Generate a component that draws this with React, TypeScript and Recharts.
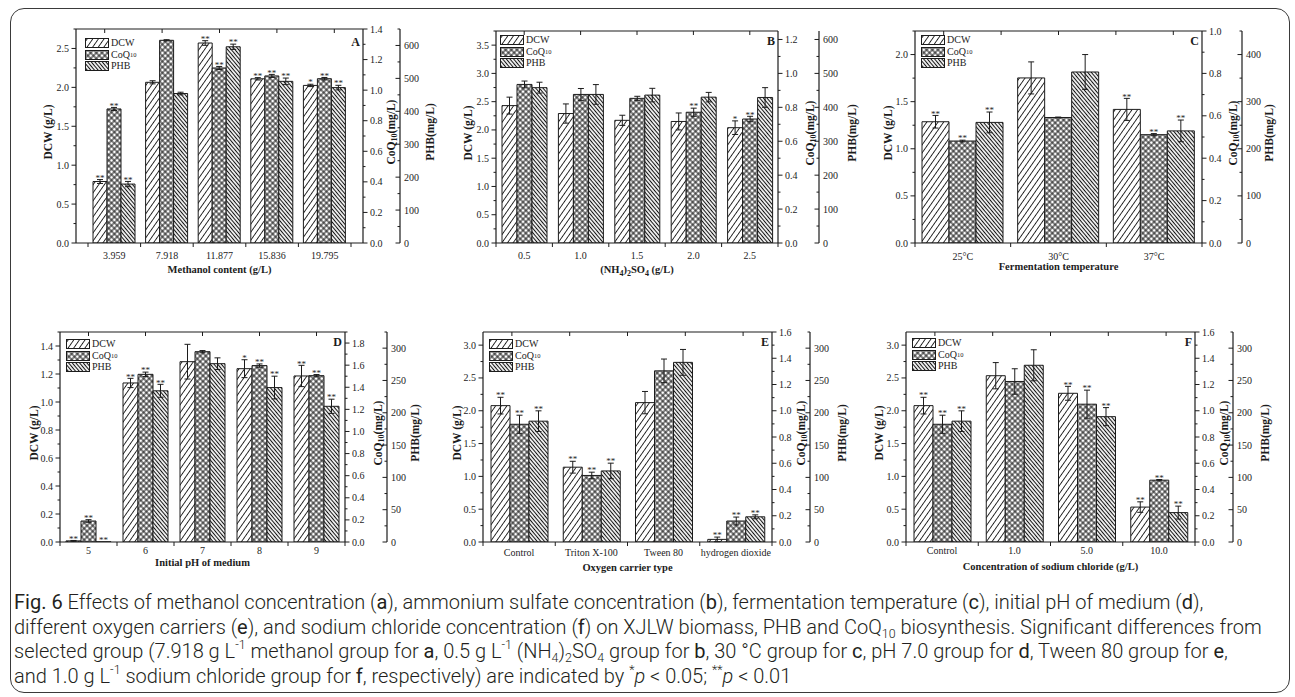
import React from "react";
import { BarChart, Bar, XAxis, YAxis, ErrorBar, LabelList } from "recharts";

const SERIF = "'Liberation Serif', 'Times New Roman', serif";
const INK = "#1c1c1c";

// A – methanol content (g/L)
const methanolLevels = ["3.959", "7.918", "11.877", "15.836", "19.795"];
const methanolDcw = [0.79, 2.065, 2.57, 2.11, 2.025];
const methanolDcwSd = [0.025, 0.02, 0.03, 0.015, 0.015];
const methanolDcwSig = ["**", "", "**", "**", "*"];
const methanolCoq = [0.877, 1.326, 1.145, 1.093, 1.075];
const methanolCoqSd = [0.01, 0.004, 0.01, 0.01, 0.008];
const methanolCoqSig = ["**", "", "**", "**", "**"];
const methanolPhb = [179, 454, 596, 491, 472];
const methanolPhbSd = [8, 4, 8, 10, 7];
const methanolPhbSig = ["**", "", "**", "**", "**"];

// B – (NH4)2SO4 (g/L)
const sulfateLevels = ["0.5", "1.0", "1.5", "2.0", "2.5"];
const sulfateDcw = [2.43, 2.29, 2.17, 2.15, 2.04];
const sulfateDcwSd = [0.15, 0.17, 0.09, 0.15, 0.12];
const sulfateDcwSig = ["", "", "", "", "*"];
const sulfateCoq = [0.935, 0.876, 0.853, 0.771, 0.731];
const sulfateCoqSd = [0.02, 0.035, 0.012, 0.024, 0.016];
const sulfateCoqSig = ["", "", "", "**", "**"];
const sulfatePhb = [458, 438, 436, 430, 429];
const sulfatePhbSd = [16, 29, 20, 14, 29];
const sulfatePhbSig = ["", "", "", "", ""];

// C – fermentation temperature
const tempLevels = ["25°C", "30°C", "37°C"];
const tempDcw = [1.287, 1.752, 1.418];
const tempDcwSd = [0.067, 0.17, 0.117];
const tempDcwSig = ["**", "", "**"];
const tempCoq = [0.481, 0.592, 0.511];
const tempCoqSd = [0.004, 0.002, 0.005];
const tempCoqSig = ["**", "", "**"];
const tempPhb = [256, 363, 238];
const tempPhbSd = [22, 37, 23];
const tempPhbSig = ["**", "", "**"];

// D – initial pH of medium
const phLevels = ["5", "6", "7", "8", "9"];
const phDcw = [0.008, 1.136, 1.288, 1.238, 1.186];
const phDcwSd = [0.003, 0.033, 0.124, 0.064, 0.076];
const phDcwSig = ["**", "**", "", "*", "**"];
const phCoq = [0.19, 1.517, 1.722, 1.596, 1.505];
const phCoqSd = [0.012, 0.02, 0.01, 0.015, 0.01];
const phCoqSig = ["**", "**", "", "**", "**"];
const phPhb = [0.3, 234, 276, 239, 210];
const phPhbSd = [0, 10, 9, 17.6, 11];
const phPhbSig = ["**", "**", "", "**", "**"];

// E – oxygen carrier type
const carrierLevels = ["Control", "Triton X-100", "Tween 80", "hydrogen dioxide"];
const carrierDcw = [2.078, 1.14, 2.124, 0.04];
const carrierDcwSd = [0.127, 0.09, 0.17, 0.035];
const carrierDcwSig = ["**", "**", "", "**"];
const carrierCoq = [0.897, 0.507, 1.304, 0.16];
const carrierCoqSd = [0.069, 0.025, 0.09, 0.03];
const carrierCoqSig = ["**", "**", "", "**"];
const carrierPhb = [187, 110, 278, 39];
const carrierPhbSd = [16, 12, 20, 3];
const carrierPhbSig = ["**", "**", "", "**"];

// F – sodium chloride (g/L)
const saltLevels = ["Control", "1.0", "5.0", "10.0"];
const saltDcw = [2.078, 2.534, 2.266, 0.532];
const saltDcwSd = [0.127, 0.2, 0.106, 0.08];
const saltDcwSig = ["**", "", "**", "**"];
const saltCoq = [0.897, 1.223, 1.05, 0.471];
const saltCoqSd = [0.069, 0.097, 0.107, 0.005];
const saltCoqSig = ["**", "", "**", "**"];
const saltPhb = [187, 273.5, 194, 45.5];
const saltPhbSd = [16, 24, 14, 10];
const saltPhbSig = ["**", "", "**", "**"];

// axis ticks (major; minors are drawn half way)
const dcwTicksA = [0, 0.5, 1, 1.5, 2, 2.5];
const coqTicksA = [0, 0.2, 0.4, 0.6, 0.8, 1.0, 1.2, 1.4];
const phbTicksA = [0, 100, 200, 300, 400, 500, 600];
const dcwTicksB = [0, 0.5, 1, 1.5, 2, 2.5, 3, 3.5];
const coqTicksB = [0, 0.2, 0.4, 0.6, 0.8, 1.0, 1.2];
const phbTicksB = [0, 100, 200, 300, 400, 500, 600];
const dcwTicksC = [0, 0.5, 1, 1.5, 2];
const coqTicksC = [0, 0.2, 0.4, 0.6, 0.8, 1.0];
const phbTicksC = [0, 100, 200, 300, 400];
const dcwTicksD = [0, 0.2, 0.4, 0.6, 0.8, 1.0, 1.2, 1.4];
const coqTicksD = [0, 0.2, 0.4, 0.6, 0.8, 1.0, 1.2, 1.4, 1.6, 1.8];
const phbTicksD = [0, 50, 100, 150, 200, 250, 300];
const dcwTicksEF = [0, 0.5, 1, 1.5, 2, 2.5, 3];
const coqTicksEF = [0, 0.2, 0.4, 0.6, 0.8, 1.0, 1.2, 1.4, 1.6];
const phbTicksEF = [0, 50, 100, 150, 200, 250, 300];

const LEFT_W = 55;
const PHB_W = 48;
const TOP_M = 10;
const X_H = 40;

const withMinors = (majors: number[], max: number) => {
  const step = majors[1] - majors[0];
  const out: number[] = [];
  majors.forEach((m) => {
    out.push(m);
    if (m + step / 2 <= max + 1e-9) out.push(+(m + step / 2).toFixed(4));
  });
  return out;
};

function ValueTick(props: any) {
  const { x, y, payload, kind, majors, digits } = props;
  const v = Number(payload.value);
  const major = majors.some((m: number) => Math.abs(m - v) < 1e-6);
  const len = major ? 4.5 : 2.5;
  let x2 = x - len;
  let tx = x - 7;
  let anchor = "end";
  if (kind === "coq") {
    x2 = x + len;
    tx = x + 7;
    anchor = "start";
  }
  if (kind === "phb") {
    tx = x + 4;
    anchor = "start";
  }
  return (
    <g>
      <line x1={x} y1={y} x2={x2} y2={y} stroke={INK} strokeWidth={1} />
      {major && (
        <text x={tx} y={y} dy="0.35em" textAnchor={anchor} fontSize={10} fontFamily={SERIF} fill={INK}>
          {v.toFixed(digits)}
        </text>
      )}
    </g>
  );
}

function CatTick(props: any) {
  const { x, y, payload, index, half, count, dy } = props;
  return (
    <g>
      <line x1={x - half} y1={y} x2={x - half} y2={y + 4} stroke={INK} strokeWidth={1} />
      {index === count - 1 && <line x1={x + half} y1={y} x2={x + half} y2={y + 4} stroke={INK} strokeWidth={1} />}
      <text x={x} y={y + dy} textAnchor="middle" fontSize={10} fontFamily={SERIF} fill={INK}>
        {payload.value}
      </text>
    </g>
  );
}

const starLabel = (vals: number[], sds: number[], sigs: string[]) => (p: any) => {
  const i = p.index;
  const vb = p.viewBox && typeof p.viewBox.width === "number" ? p.viewBox : p;
  const s = i !== undefined ? sigs[i] : p.value;
  if (!s) return null;
  const h = vb.height ?? 0;
  const top = Math.min(vb.y, vb.y + h);
  const per = i !== undefined && vals[i] > 0 && Math.abs(h) > 0 ? Math.abs(h) / vals[i] : 0;
  const err = i !== undefined ? sds[i] * per : 0;
  return (
    <text x={vb.x + vb.width / 2} y={top - err + 1.2} textAnchor="middle" fontSize={9} fontFamily={SERIF} fill={INK}>
      {s}
    </text>
  );
};

type Frame = { letter: string; letterDy: number; plotW: number };

// axis title; the inner right axis also closes the frame along the top (Origin style) and carries the panel letter
const yTitle = (kind: string, dx: number, frame?: Frame) => (p: any) => {
  const vb = p.viewBox;
  const base = kind === "dcw" ? vb.x + vb.width : vb.x;
  const cx = base + dx;
  const cy = vb.y + vb.height / 2 - 4;
  return (
    <g>
      <text
        x={cx}
        y={cy}
        transform={`rotate(-90 ${cx} ${cy})`}
        textAnchor="middle"
        dominantBaseline="central"
        fontSize={11.5}
        fontWeight="bold"
        fontFamily={SERIF}
        fill={INK}
      >
        {kind === "dcw" && "DCW (g/L)"}
        {kind === "coq" && (
          <>
            CoQ<tspan fontSize={8} dy={3}>10</tspan>
            <tspan dy={-3}>(mg/L)</tspan>
          </>
        )}
        {kind === "phb" && "PHB(mg/L)"}
      </text>
      {frame && (
        <g>
          <line x1={vb.x - frame.plotW} y1={vb.y} x2={vb.x} y2={vb.y} stroke={INK} strokeWidth={1.2} />
          {[0, 1, 2, 3, 4].map((k) => {
            const xx = vb.x - frame.plotW + ((k + 0.5) * frame.plotW) / 5;
            return <line key={k} x1={xx} y1={vb.y} x2={xx} y2={vb.y + 4} stroke={INK} strokeWidth={1} />;
          })}
          <text x={vb.x - 3} y={vb.y + frame.letterDy} textAnchor="end" fontSize={12} fontWeight="bold" fontFamily={SERIF} fill={INK}>
            {frame.letter}
          </text>
        </g>
      )}
    </g>
  );
};

const xTitle = (content: React.ReactNode, dy: number) => (p: any) => {
  const vb = p.viewBox;
  return (
    <text x={vb.x + vb.width / 2} y={vb.y + dy} textAnchor="middle" fontSize={10.5} fontWeight="bold" fontFamily={SERIF} fill={INK}>
      {content}
    </text>
  );
};

type Spec = {
  letter: string;
  letterDy: number;
  left: number;
  top: number;
  plotW: number;
  plotH: number;
  coqW: number;
  pad: number;
  barSize: number;
  cats: string[];
  dcw: number[];
  dcwSd: number[];
  dcwSig: string[];
  coq: number[];
  coqSd: number[];
  coqSig: string[];
  phb: number[];
  phbSd: number[];
  phbSig: string[];
  dcwTicks: number[];
  dcwMax: number;
  coqTicks: number[];
  coqMax: number;
  phbTicks: number[];
  phbMax: number;
  title: React.ReactNode;
  tickDy: number;
  titleDy: number;
  dcwDx: number;
  phbDx: number;
  legend: [number, number];
};

const panels: Spec[] = [
  {
    letter: "A", letterDy: 17, left: 76, top: 29, plotW: 287, plotH: 214, coqW: 37, pad: 12, barSize: 14,
    cats: methanolLevels,
    dcw: methanolDcw, dcwSd: methanolDcwSd, dcwSig: methanolDcwSig,
    coq: methanolCoq, coqSd: methanolCoqSd, coqSig: methanolCoqSig,
    phb: methanolPhb, phbSd: methanolPhbSd, phbSig: methanolPhbSig,
    dcwTicks: dcwTicksA, dcwMax: 2.75, coqTicks: coqTicksA, coqMax: 1.4, phbTicks: phbTicksA, phbMax: 650,
    title: "Methanol content (g/L)", tickDy: 15.7, titleDy: 29.8, dcwDx: -28, phbDx: 30, legend: [9, 9],
  },
  {
    letter: "B", letterDy: 14, left: 496, top: 31, plotW: 282, plotH: 212, coqW: 41, pad: 0, barSize: 15,
    cats: sulfateLevels,
    dcw: sulfateDcw, dcwSd: sulfateDcwSd, dcwSig: sulfateDcwSig,
    coq: sulfateCoq, coqSd: sulfateCoqSd, coqSig: sulfateCoqSig,
    phb: sulfatePhb, phbSd: sulfatePhbSd, phbSig: sulfatePhbSig,
    dcwTicks: dcwTicksB, dcwMax: 3.75, coqTicks: coqTicksB, coqMax: 1.25, phbTicks: phbTicksB, phbMax: 625,
    title: (
      <>
        (NH<tspan fontSize={8} dy={3}>4</tspan>
        <tspan dy={-3}>)</tspan>
        <tspan fontSize={8} dy={3}>2</tspan>
        <tspan dy={-3}>SO</tspan>
        <tspan fontSize={8} dy={3}>4</tspan>
        <tspan dy={-3}> (g/L)</tspan>
      </>
    ),
    tickDy: 15.7, titleDy: 29.8, dcwDx: -28, phbDx: 33, legend: [4, 4],
  },
  {
    letter: "C", letterDy: 14, left: 915, top: 31, plotW: 287, plotH: 212, coqW: 40, pad: 0, barSize: 27,
    cats: tempLevels,
    dcw: tempDcw, dcwSd: tempDcwSd, dcwSig: tempDcwSig,
    coq: tempCoq, coqSd: tempCoqSd, coqSig: tempCoqSig,
    phb: tempPhb, phbSd: tempPhbSd, phbSig: tempPhbSig,
    dcwTicks: dcwTicksC, dcwMax: 2.25, coqTicks: coqTicksC, coqMax: 1.0, phbTicks: phbTicksC, phbMax: 450,
    title: "Fermentation temperature", tickDy: 17, titleDy: 27.2, dcwDx: -27, phbDx: 27, legend: [6, 4],
  },
  {
    letter: "D", letterDy: 14, left: 60, top: 332, plotW: 285, plotH: 210, coqW: 42, pad: 0, barSize: 15,
    cats: phLevels,
    dcw: phDcw, dcwSd: phDcwSd, dcwSig: phDcwSig,
    coq: phCoq, coqSd: phCoqSd, coqSig: phCoqSig,
    phb: phPhb, phbSd: phPhbSd, phbSig: phPhbSig,
    dcwTicks: dcwTicksD, dcwMax: 1.5, coqTicks: coqTicksD, coqMax: 1.9, phbTicks: phbTicksD, phbMax: 325,
    title: "Initial pH of medium", tickDy: 11.5, titleDy: 24, dcwDx: -26, phbDx: 28, legend: [6, 7],
  },
  {
    letter: "E", letterDy: 14, left: 483, top: 332, plotW: 289, plotH: 210, coqW: 38, pad: 0, barSize: 19,
    cats: carrierLevels,
    dcw: carrierDcw, dcwSd: carrierDcwSd, dcwSig: carrierDcwSig,
    coq: carrierCoq, coqSd: carrierCoqSd, coqSig: carrierCoqSig,
    phb: carrierPhb, phbSd: carrierPhbSd, phbSig: carrierPhbSig,
    dcwTicks: dcwTicksEF, dcwMax: 3.2, coqTicks: coqTicksEF, coqMax: 1.6, phbTicks: phbTicksEF, phbMax: 325,
    title: "Oxygen carrier type", tickDy: 13.6, titleDy: 29.2, dcwDx: -26, phbDx: 32, legend: [6, 7],
  },
  {
    letter: "F", letterDy: 14, left: 906, top: 332, plotW: 289, plotH: 210, coqW: 38, pad: 0, barSize: 19,
    cats: saltLevels,
    dcw: saltDcw, dcwSd: saltDcwSd, dcwSig: saltDcwSig,
    coq: saltCoq, coqSd: saltCoqSd, coqSig: saltCoqSig,
    phb: saltPhb, phbSd: saltPhbSd, phbSig: saltPhbSig,
    dcwTicks: dcwTicksEF, dcwMax: 3.2, coqTicks: coqTicksEF, coqMax: 1.6, phbTicks: phbTicksEF, phbMax: 325,
    title: "Concentration of sodium chloride (g/L)", tickDy: 12.3, titleDy: 28.2, dcwDx: -27, phbDx: 32, legend: [6, 6],
  },
];

const axisLine = { stroke: INK, strokeWidth: 1.2 };

function Swatch({ pat }: { pat: string }) {
  return (
    <svg width={24} height={10} style={{ display: "block", marginRight: 2 }}>
      <rect x={0.5} y={0.5} width={23} height={9} fill={`url(#${pat})`} stroke={INK} strokeWidth={1} />
    </svg>
  );
}

function PanelLegend({ left, top }: { left: number; top: number }) {
  const row: React.CSSProperties = { display: "flex", alignItems: "center", height: 10, marginBottom: 1.7 };
  return (
    <div style={{ position: "absolute", left, top, fontFamily: SERIF, fontSize: 10, lineHeight: "10px", color: INK }}>
      <div style={row}><Swatch pat="pat-dcw" />DCW</div>
      <div style={row}>
        <Swatch pat="pat-coq" />CoQ<sub style={{ fontSize: 6.5, lineHeight: 0, verticalAlign: "-2px" }}>10</sub>
      </div>
      <div style={row}><Swatch pat="pat-phb" />PHB</div>
    </div>
  );
}

function Panel({ p }: { p: Spec }) {
  const rows = p.cats.map((cat, i) => ({
    cat,
    dcw: p.dcw[i], dcwSd: p.dcwSd[i], dcwSig: p.dcwSig[i],
    coq: p.coq[i], coqSd: p.coqSd[i], coqSig: p.coqSig[i],
    phb: p.phb[i], phbSd: p.phbSd[i], phbSig: p.phbSig[i],
  }));
  const width = LEFT_W + p.plotW + p.coqW + PHB_W;
  const height = TOP_M + p.plotH + X_H;
  const half = (p.plotW - 2 * p.pad) / p.cats.length / 2;
  return (
    <div style={{ position: "absolute", left: p.left - LEFT_W, top: p.top - TOP_M, width, height }}>
      <BarChart width={width} height={height} data={rows} margin={{ top: TOP_M, right: 0, bottom: 0, left: 0 }} barGap={0}>
        <XAxis
          dataKey="cat"
          height={X_H}
          interval={0}
          padding={{ left: p.pad, right: p.pad }}
          tickSize={0}
          tickMargin={0}
          tickLine={false}
          axisLine={axisLine}
          tick={<CatTick half={half} count={p.cats.length} dy={p.tickDy} />}
          label={xTitle(p.title, p.titleDy)}
        />
        <YAxis
          yAxisId="dcw"
          orientation="left"
          width={LEFT_W}
          type="number"
          domain={[0, p.dcwMax]}
          ticks={withMinors(p.dcwTicks, p.dcwMax)}
          interval={0}
          allowDataOverflow
          tickSize={0}
          tickMargin={0}
          tickLine={false}
          axisLine={axisLine}
          tick={<ValueTick kind="dcw" majors={p.dcwTicks} digits={1} />}
          label={yTitle("dcw", p.dcwDx)}
        />
        <YAxis
          yAxisId="coq"
          orientation="right"
          width={p.coqW}
          type="number"
          domain={[0, p.coqMax]}
          ticks={withMinors(p.coqTicks, p.coqMax)}
          interval={0}
          allowDataOverflow
          tickSize={0}
          tickMargin={0}
          tickLine={false}
          axisLine={axisLine}
          tick={<ValueTick kind="coq" majors={p.coqTicks} digits={1} />}
          label={yTitle("coq", p.coqW - 9, { letter: p.letter, letterDy: p.letterDy, plotW: p.plotW })}
        />
        <YAxis
          yAxisId="phb"
          orientation="right"
          width={PHB_W}
          type="number"
          domain={[0, p.phbMax]}
          ticks={withMinors(p.phbTicks, p.phbMax)}
          interval={0}
          allowDataOverflow
          tickSize={0}
          tickMargin={0}
          tickLine={false}
          axisLine={axisLine}
          tick={<ValueTick kind="phb" majors={p.phbTicks} digits={0} />}
          label={yTitle("phb", p.phbDx)}
        />
        <Bar yAxisId="dcw" dataKey="dcw" barSize={p.barSize} fill="url(#pat-dcw)" stroke={INK} strokeWidth={1} isAnimationActive={false}>
          <ErrorBar dataKey="dcwSd" width={3} stroke={INK} strokeWidth={1} direction="y" />
          <LabelList dataKey="dcwSig" content={starLabel(p.dcw, p.dcwSd, p.dcwSig)} />
        </Bar>
        <Bar yAxisId="coq" dataKey="coq" barSize={p.barSize} fill="url(#pat-coq)" stroke={INK} strokeWidth={1} isAnimationActive={false}>
          <ErrorBar dataKey="coqSd" width={3} stroke={INK} strokeWidth={1} direction="y" />
          <LabelList dataKey="coqSig" content={starLabel(p.coq, p.coqSd, p.coqSig)} />
        </Bar>
        <Bar yAxisId="phb" dataKey="phb" barSize={p.barSize} fill="url(#pat-phb)" stroke={INK} strokeWidth={1} isAnimationActive={false}>
          <ErrorBar dataKey="phbSd" width={3} stroke={INK} strokeWidth={1} direction="y" />
          <LabelList dataKey="phbSig" content={starLabel(p.phb, p.phbSd, p.phbSig)} />
        </Bar>
      </BarChart>
      <PanelLegend left={LEFT_W + p.legend[0]} top={TOP_M + p.legend[1]} />
    </div>
  );
}

function Patterns() {
  return (
    <svg width={0} height={0} style={{ position: "absolute", left: 0, top: 0 }}>
      <defs>
        <pattern id="pat-dcw" width={4.6} height={8} patternUnits="userSpaceOnUse" patternTransform="rotate(35)">
          <rect width={4.6} height={8} fill="#fff" />
          <line x1={2.3} y1={0} x2={2.3} y2={8} stroke="#111" strokeWidth={0.9} />
        </pattern>
        <pattern id="pat-coq" width={4} height={4} patternUnits="userSpaceOnUse" patternTransform="rotate(45)">
          <rect width={4} height={4} fill="#fff" />
          <line x1={2} y1={0} x2={2} y2={4} stroke="#111" strokeWidth={1} />
          <line x1={0} y1={2} x2={4} y2={2} stroke="#111" strokeWidth={1} />
        </pattern>
        <pattern id="pat-phb" width={2.8} height={8} patternUnits="userSpaceOnUse" patternTransform="rotate(-40)">
          <rect width={2.8} height={8} fill="#fff" />
          <line x1={1.4} y1={0} x2={1.4} y2={8} stroke="#111" strokeWidth={1.1} />
        </pattern>
      </defs>
    </svg>
  );
}

const sup: React.CSSProperties = { fontSize: "0.62em", lineHeight: 0, verticalAlign: "0.75em" };
const sub: React.CSSProperties = { fontSize: "0.62em", lineHeight: 0, verticalAlign: "-0.3em" };

function Caption() {
  const line: React.CSSProperties = { height: 24.5, lineHeight: "24.5px", whiteSpace: "nowrap" };
  return (
    <div
      style={{
        position: "absolute",
        left: 14,
        top: 590,
        width: 1272,
        fontFamily: "Roboto, 'Noto Sans', sans-serif",
        fontWeight: 300,
        fontSize: 20,
        color: "#231f20",
      }}
    >
      <div style={line}>
        <b>Fig. 6</b> Effects of methanol concentration (<b>a</b>), ammonium sulfate concentration (<b>b</b>), fermentation
        temperature (<b>c</b>), initial pH of medium (<b>d</b>),
      </div>
      <div style={line}>
        different oxygen carriers (<b>e</b>), and sodium chloride concentration (<b>f</b>) on XJLW biomass, PHB and CoQ
        <span style={sub}>10</span> biosynthesis. Significant differences from
      </div>
      <div style={line}>
        selected group (7.918 g L<span style={sup}>-1</span> methanol group for <b>a</b>, 0.5 g L<span style={sup}>-1</span> (NH
        <span style={sub}>4</span>)<span style={sub}>2</span>SO<span style={sub}>4</span> group for <b>b</b>, 30 °C group for{" "}
        <b>c</b>, pH 7.0 group for <b>d</b>, Tween 80 group for <b>e</b>,
      </div>
      <div style={line}>
        and 1.0 g L<span style={sup}>-1</span> sodium chloride group for <b>f</b>, respectively) are indicated by{" "}
        <span style={sup}>*</span>
        <i>p</i> &lt; 0.05; <span style={sup}>**</span>
        <i>p</i> &lt; 0.01
      </div>
    </div>
  );
}

export default function App() {
  return (
    <div style={{ position: "absolute", left: 0, top: 0, width: 1295, height: 697, background: "#fff", overflow: "hidden" }}>
      <Patterns />
      <div
        style={{
          position: "absolute",
          left: 10,
          top: 8,
          width: 1280,
          height: 685,
          boxSizing: "border-box",
          border: "1.5px solid #3a3a3a",
          borderRadius: 14,
        }}
      />
      {panels.map((p) => (
        <Panel key={p.letter} p={p} />
      ))}
      <Caption />
    </div>
  );
}
